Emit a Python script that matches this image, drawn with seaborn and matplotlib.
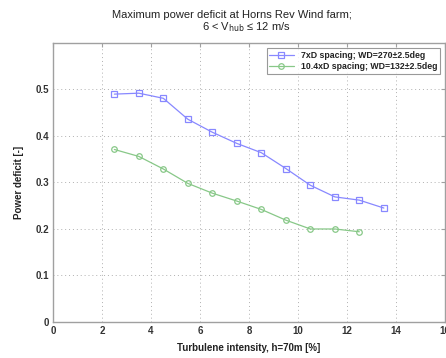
import numpy as np
import pandas as pd
import matplotlib
matplotlib.use("Agg")
import matplotlib.pyplot as plt
import seaborn as sns

ti_7d = [2.5, 3.5, 4.5, 5.5, 6.5, 7.5, 8.5, 9.5, 10.5, 11.5, 12.5, 13.5]
pd_7d = [0.490, 0.492, 0.481, 0.436, 0.408, 0.384, 0.364, 0.330, 0.294, 0.269, 0.262, 0.245]
ti_10d = [2.5, 3.5, 4.5, 5.5, 6.5, 7.5, 8.5, 9.5, 10.5, 11.5, 12.5]
pd_10d = [0.371, 0.356, 0.329, 0.298, 0.277, 0.260, 0.242, 0.219, 0.200, 0.200, 0.194]
label_7d = "7xD spacing; WD=270\u00b12.5deg"
label_10d = "10.4xD spacing; WD=132\u00b12.5deg"
xticks = [0, 2, 4, 6, 8, 10, 12, 14, 16]
yticks = [0, 0.1, 0.2, 0.3, 0.4, 0.5]
title_line1 = "Maximum power deficit at Horns Rev Wind farm;"
title_line2 = "6 < V$_{\\rm hub}$ \u2264 12 m/s"

sns.set_style("white")
plt.rcParams['font.family'] = ['Liberation Sans', 'DejaVu Sans']

df = pd.concat([
    pd.DataFrame({"ti": ti_7d, "pdef": pd_7d, "series": label_7d}),
    pd.DataFrame({"ti": ti_10d, "pdef": pd_10d, "series": label_10d}),
])

fig = plt.figure(figsize=(4.46, 3.58), dpi=100)
ax = fig.add_axes([0.119, 0.1006, 0.879, 0.7794])

blue = "#8888ff"
green = "#88c888"
sns.lineplot(data=df, x="ti", y="pdef", hue="series", style="series",
             palette={label_7d: blue, label_10d: green},
             markers={label_7d: "s", label_10d: "o"}, dashes=False,
             markersize=4, markeredgewidth=0.9,
             linewidth=0.9, ax=ax)
for line in ax.lines:
    line.set_markeredgecolor(line.get_color())
    line.set_markerfacecolor("none")

ax.set_xlim(0, 16)
ax.set_ylim(0, 0.6)
ax.set_xticks(xticks)
ax.set_yticks(yticks)
ax.set_xticklabels([f"{t:g}" for t in xticks], fontsize=7, fontweight="bold", color="#333333")
ax.set_yticklabels([f"{t:g}" for t in yticks], fontsize=7, fontweight="bold", color="#333333")
ax.grid(True, linestyle=(0, (1, 3)), color="#b0b0b0", linewidth=0.7)
for s in ax.spines.values():
    s.set_color("#a0a0a0")
    s.set_linewidth(1.0)
ax.tick_params(axis="both", direction="in", length=3, color="#a0a0a0", pad=3,
               top=True, right=True)
ax.set_xlabel("Turbulene intensity, h=70m [%]", fontsize=7, fontweight="bold", color="#222222", labelpad=5)
ax.set_ylabel("Power deficit [-]", fontsize=7, fontweight="bold", color="#222222", labelpad=8)
fig.text(232 / 446, 1 - 15 / 358, title_line1, ha="center", va="center",
         fontsize=8, color="#222222")
fig.text(246 / 446, 1 - 27 / 358, title_line2, ha="center", va="center",
         fontsize=8, color="#222222")

leg = ax.legend(loc="upper right", fontsize=6.3, frameon=True, fancybox=False,
                borderaxespad=0.6, handlelength=2.8, borderpad=0.3, labelspacing=0.25)
leg.get_frame().set_edgecolor("#808080")
leg.get_frame().set_linewidth(0.8)
for t in leg.get_texts():
    t.set_fontweight("bold")
    t.set_color("#222222")

fig.savefig("out.png", dpi=100)
